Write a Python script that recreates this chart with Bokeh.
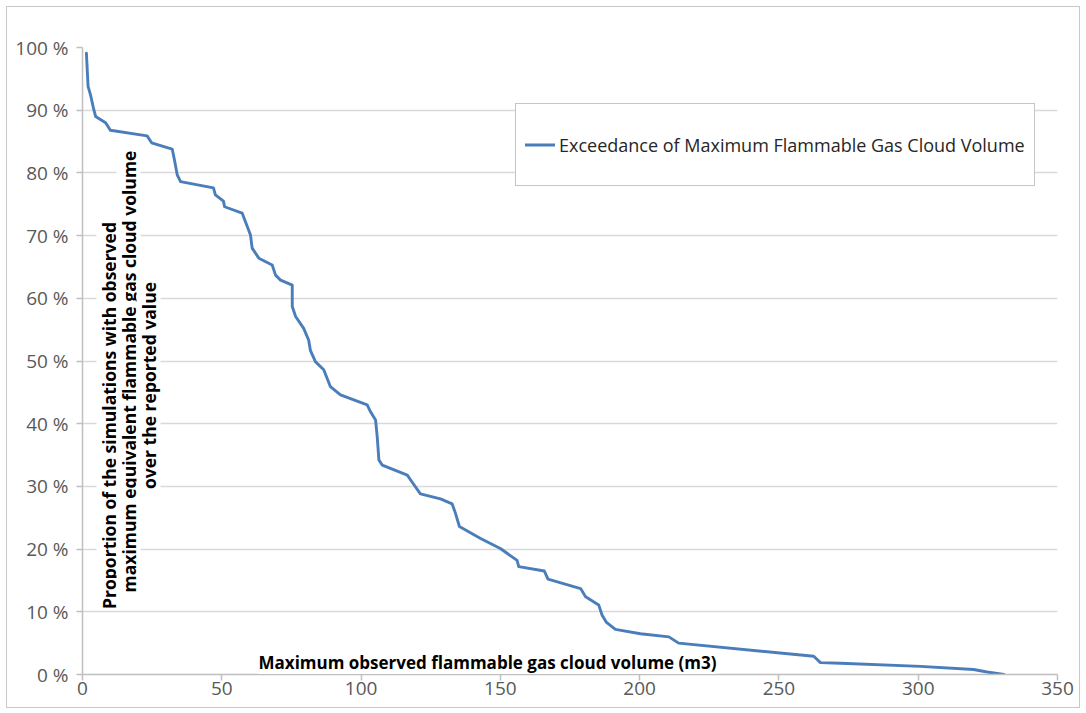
import math
from bokeh.plotting import figure
from bokeh.models import Range1d, FixedTicker, Label, Legend, LegendItem
from bokeh.embed import file_html
from bokeh.resources import INLINE

# ---- data ----
volume = [1.4, 2.0, 2.9, 4.0, 4.7, 8.3, 10.0, 23.2, 24.8, 32.2,
          33.0, 34.0, 35.2, 47.0, 47.7, 50.6, 51.0, 57.3, 58.5, 60.3,
          60.9, 63.3, 68.1, 69.3, 71.1, 75.3, 75.3, 76.5, 79.4, 81.2,
          81.8, 83.6, 86.6, 89.0, 92.6, 97.4, 102.2, 103.4, 105.2, 105.8,
          106.4, 107.6, 116.6, 118.3, 121.3, 128.5, 132.7, 133.9, 135.3, 142.9,
          150.0, 156.0, 156.6, 165.8, 167.1, 178.8, 180.6, 185.3, 186.5, 188.1,
          191.3, 200.3, 210.5, 214.0, 262.5, 264.9, 272.1, 300.8, 319.9, 324.7,
          330.8]
proportion = [99.1, 93.8, 92.4, 90.2, 89.0, 88.0, 86.8, 85.9, 84.8, 83.8,
              82.1, 79.7, 78.6, 77.6, 76.5, 75.5, 74.6, 73.6, 72.2, 70.1,
              68.0, 66.4, 65.3, 63.7, 62.9, 62.1, 58.7, 57.1, 55.2, 53.3,
              51.7, 49.9, 48.6, 45.9, 44.6, 43.8, 43.0, 41.9, 40.6, 37.9,
              34.2, 33.4, 31.8, 30.7, 28.8, 28.0, 27.2, 25.7, 23.6, 21.7,
              20.1, 18.2, 17.2, 16.5, 15.2, 13.7, 12.4, 11.1, 9.5, 8.3,
              7.2, 6.5, 6.0, 5.0, 2.9, 1.9, 1.8, 1.3, 0.8, 0.4,
              0.0]
x_ticks = [0, 50, 100, 150, 200, 250, 300, 350]
y_ticks = [0, 10, 20, 30, 40, 50, 60, 70, 80, 90, 100]
y_tick_labels = ["0 %", "10 %", "20 %", "30 %", "40 %", "50 %",
                 "60 %", "70 %", "80 %", "90 %", "100 %"]
series_name = "Exceedance of Maximum Flammable Gas Cloud Volume"
x_title = "Maximum observed flammable gas cloud volume (m3)"
y_title_lines = ["Proportion of the simulations with observed",
                 "maximum equivalent flammable gas cloud volume",
                 "over the reported value"]

FONT = "Open Sans"
LINE_COLOR = "#4A7EBB"
GRID = "#d9d9d9"

p = figure(width=1072, height=700, output_backend="svg", toolbar_location=None,
           x_range=Range1d(0, 350), y_range=Range1d(0, 100),
           min_border_left=75, min_border_right=22,
           min_border_top=40, min_border_bottom=33)
p.outline_line_color = None
p.background_fill_color = "white"
p.border_fill_color = "white"
p.styles = {"outline": "1px solid #c8c8c8", "margin": "7px 0px 0px 7px"}

r = p.line(volume, proportion, line_color=LINE_COLOR, line_width=2.9,
           line_join="round", line_cap="round")

# axes
for ax in (p.xaxis[0], p.yaxis[0]):
    ax.axis_line_color = "#bfbfbf"
    ax.axis_line_width = 1.5
    ax.major_tick_line_color = "#bfbfbf"
    ax.major_tick_line_width = 1.5
    ax.major_tick_in = 0
    ax.major_tick_out = 6
    ax.minor_tick_line_color = None
    ax.major_label_text_font = FONT
    ax.major_label_text_font_size = "19px"
    ax.major_label_text_color = "#595959"

p.xaxis.ticker = FixedTicker(ticks=x_ticks)
p.yaxis.ticker = FixedTicker(ticks=y_ticks)
p.yaxis.major_label_overrides = {t: lab for t, lab in zip(y_ticks, y_tick_labels)}
p.xaxis.major_label_standoff = 1
p.yaxis.major_label_standoff = 8

p.xgrid.visible = False
p.ygrid.grid_line_color = GRID
p.ygrid.grid_line_width = 1.5

# axis titles placed inside the frame, on white boxes
y_title_pos = [(26, 259), (46, 303), (66, 289)]
for line_text, (sx, sy) in zip(y_title_lines, y_title_pos):
    p.add_layout(Label(x=sx, y=sy, x_units="screen", y_units="screen",
                       text=line_text, angle=math.pi / 2,
                       text_align="center", text_baseline="middle",
                       text_font=FONT, text_font_style="bold",
                       text_font_size="17.5px", text_color="#000000",
                       background_fill_color="white"))

p.add_layout(Label(x=405, y=12, x_units="screen", y_units="screen",
                   text=x_title, text_align="center", text_baseline="middle",
                   text_font=FONT, text_font_style="bold",
                   text_font_size="17px", text_color="#000000",
                   background_fill_color="white"))

legend = Legend(items=[LegendItem(label=series_name, renderers=[r])],
                location=(433, 488))
legend.label_text_font = FONT
legend.label_text_font_size = "18px"
legend.label_text_color = "#262626"
legend.border_line_color = "#8c8c8c"
legend.border_line_width = 1
legend.background_fill_color = "white"
legend.background_fill_alpha = 1
legend.padding = 9
legend.margin = 0
legend.glyph_width = 30
legend.glyph_height = 63
legend.label_height = 63
legend.label_standoff = 4
p.add_layout(legend)

open("out.html", "w").write(file_html(p, INLINE))
